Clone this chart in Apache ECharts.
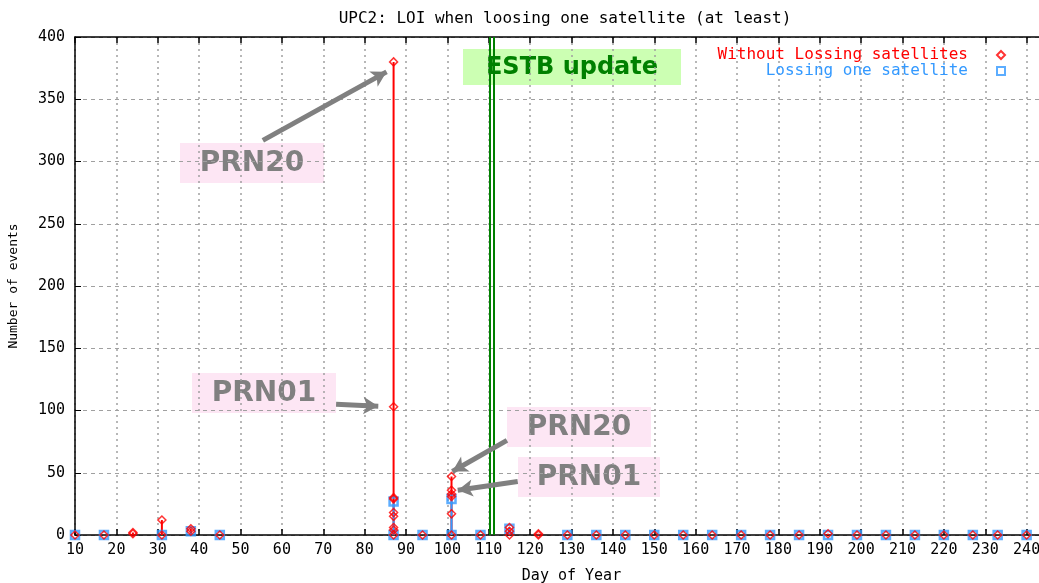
<!DOCTYPE html>
<html>
<head>
<meta charset="utf-8">
<script src="https://cdn.jsdelivr.net/npm/echarts@6/dist/echarts.min.js"></script>
<style>
  html, body { margin: 0; padding: 0; background: #fff; }
  #chart { width: 1039px; height: 583px; }
</style>
</head>
<body>
<div id="chart"></div>
<script>
// day of year for each sample
const days = [10, 17, 24, 31, 38, 45, 87, 94, 101, 108, 115, 122, 129, 136, 143, 150,
  157, 164, 171, 178, 185, 192, 199, 206, 213, 220, 227, 233, 240];
// "Without Lossing satellites": all values seen on each day
const redValues = [[0], [0], [2, 1], [12, 0], [5, 3], [0], [380, 103, 30, 29, 18, 15, 6, 4, 0], [0],
  [47, 36, 33, 31, 17, 0], [0], [6, 3, 0], [1, 0], [0], [0], [0], [0],
  [0], [0], [0], [0], [0], [1], [0], [0], [0], [0], [0], [0], [0]];
// "Lossing one satellite" (null = no sample that day)
const blueValues = [[0], [0], null, [0], [3], [0], [27, 0], [0],
  [29, 0], [0], [5], null, [0], [0], [0], [0],
  [0], [0], [0], [0], [0], [0], [0], [0], [0], [0], [0], [0], [0]];
const yTicks = [0, 50, 100, 150, 200, 250, 300, 350, 400];

const RED = "#ff0000";
const BLUE = "#3399ff";
const GRAY = "#808080";

function points(list) {
  let out = [];
  days.forEach((d, i) => {
    if (!list[i]) return;
    list[i].forEach((v) => out.push([d, v]));
  });
  return out;
}
function stems(list) {
  let out = [];
  days.forEach((d, i) => {
    if (!list[i]) return;
    let lo = Math.min(0, ...list[i]);
    let hi = Math.max(...list[i]);
    if (hi > lo) out.push([d, lo, hi]);
  });
  return out;
}
function stemRenderer(color) {
  return function (params, api) {
    let a = api.coord([api.value(0), api.value(1)]);
    let b = api.coord([api.value(0), api.value(2)]);
    return {
      type: "line",
      shape: { x1: a[0], y1: a[1], x2: b[0], y2: b[1] },
      style: { stroke: color, lineWidth: 2 },
    };
  };
}

const mono = "DejaVu Sans Mono";
let myChart = echarts.init(document.getElementById("chart"));

const boxText = (x, y, w, h, text, fill, color, size) => ({
  type: "group",
  z: 100,
  children: [
    { type: "rect", shape: { x: x, y: y, width: w, height: h }, style: { fill: fill } },
    {
      type: "text",
      x: x + w / 2,
      y: y + h / 2 + 1,
      style: {
        text: text,
        fill: color,
        font: "bold " + size + "px 'DejaVu Sans'",
        align: "center",
        verticalAlign: "middle",
      },
    },
  ],
});

const arrow = (x1, y1, x2, y2) => [{ coord: [x1, y1] }, { coord: [x2, y2] }];

myChart.setOption({
  animation: false,
  title: {
    text: "UPC2: LOI when loosing one satellite (at least)",
    left: 560,
    textAlign: "center",
    top: 6,
    textStyle: { fontFamily: mono, fontSize: 16, fontWeight: "normal", color: "#000" },
  },
  legend: [
    {
      data: [{ name: "Without Lossing satellites", textStyle: { color: RED } }],
      right: 28,
      top: 42,
      align: "right",
      itemWidth: 8,
      itemHeight: 8,
      textStyle: { fontFamily: mono, fontSize: 16, padding: [0, 24, 0, 0] },
    },
    {
      data: [{ name: "Lossing one satellite", textStyle: { color: BLUE } }],
      right: 28,
      top: 58,
      align: "right",
      itemWidth: 8,
      itemHeight: 8,
      textStyle: { fontFamily: mono, fontSize: 16, padding: [0, 24, 0, 0] },
    },
  ],
  grid: { left: 75, top: 37, width: 993, height: 498, outerBoundsMode: "none", containLabel: false },
  xAxis: [
    {
      type: "value",
      min: 10,
      max: 250,
      interval: 10,
      name: "Day of Year",
      nameLocation: "middle",
      nameGap: 34,
      nameTextStyle: { fontFamily: mono, fontSize: 15, color: "#000" },
      axisLine: { show: true, lineStyle: { color: "#000", width: 1.5 } },
      axisTick: { show: true, inside: true, length: 6, lineStyle: { color: "#000", width: 1.5 } },
      axisLabel: { fontFamily: mono, fontSize: 15, color: "#000", margin: 8 },
      splitLine: { show: true, lineStyle: { color: "#a0a0a0", type: [2, 4], width: 1.5 } },
    },
    {
      type: "value",
      position: "top",
      min: 10,
      max: 250,
      interval: 10,
      axisLine: { show: true, lineStyle: { color: "#000", width: 1.5 } },
      axisTick: { show: true, inside: true, length: 6, lineStyle: { color: "#000", width: 1.5 } },
      axisLabel: { show: false },
      splitLine: { show: false },
    },
  ],
  yAxis: {
    type: "value",
    min: 0,
    max: 400,
    interval: 50,
    name: "Number of events",
    nameLocation: "middle",
    nameGap: 55,
    nameTextStyle: { fontFamily: mono, fontSize: 13, color: "#000" },
    axisLine: { show: true, lineStyle: { color: "#000", width: 1.5 } },
    axisTick: { show: true, inside: true, length: 6, lineStyle: { color: "#000" } },
    axisLabel: {
      fontFamily: mono,
      fontSize: 15,
      color: "#000",
      margin: 10,
      formatter: (v) => (yTicks.includes(v) ? String(v) : ""),
    },
    splitLine: { show: true, lineStyle: { color: "#a0a0a0", type: [4, 4], width: 1 } },
  },
  series: [
    {
      name: "redStem",
      type: "custom",
      renderItem: stemRenderer(RED),
      data: stems(redValues),
      encode: { x: 0, y: [1, 2] },
      z: 3,
      silent: true,
    },
    {
      name: "blueStem",
      type: "custom",
      renderItem: stemRenderer(BLUE),
      data: stems(blueValues),
      encode: { x: 0, y: [1, 2] },
      z: 4,
      silent: true,
    },
    {
      name: "Lossing one satellite",
      type: "scatter",
      data: points(blueValues),
      symbol: "rect",
      symbolSize: 8,
      itemStyle: { color: "rgba(255,255,255,0)", borderColor: BLUE, borderWidth: 2.5 },
      z: 5,
    },
    {
      name: "Without Lossing satellites",
      type: "scatter",
      data: points(redValues),
      symbol: "diamond",
      symbolSize: 8,
      itemStyle: { color: "rgba(255,255,255,0)", borderColor: RED, borderWidth: 1.5 },
      z: 6,
    },
    {
      name: "annotations",
      type: "line",
      data: [],
      silent: true,
      markLine: {
        silent: true,
        symbol: ["none", "none"],
        label: { show: false },
        lineStyle: { color: "#008000", width: 2, type: "solid" },
        data: [{ xAxis: 110.15 }, { xAxis: 111.25 }],
      },
      z: 7,
    },
    {
      name: "arrows",
      type: "line",
      data: [],
      silent: true,
      markLine: {
        silent: true,
        symbol: ["none", "arrow"],
        symbolSize: [13, 15],
        label: { show: false },
        lineStyle: { color: GRAY, width: 5, type: "solid" },
        itemStyle: { color: GRAY },
        data: [
          arrow(55.4, 317, 85.3, 372),
          arrow(73.1, 105, 83.3, 103.5),
          arrow(114.4, 76, 101.2, 51),
          arrow(117, 43, 102.5, 36),
        ],
      },
      z: 8,
    },
  ],
  graphic: [
    boxText(463, 49, 218, 36, "ESTB update", "#ccffb3", "#008000", 24),
    boxText(180, 143, 144, 40, "PRN20", "#fde6f4", GRAY, 28),
    boxText(192, 373, 144, 40, "PRN01", "#fde6f4", GRAY, 28),
    boxText(507, 407, 144, 40, "PRN20", "#fde6f4", GRAY, 28),
    boxText(518, 457, 142, 40, "PRN01", "#fde6f4", GRAY, 28),
  ],
});
</script>
</body>
</html>
